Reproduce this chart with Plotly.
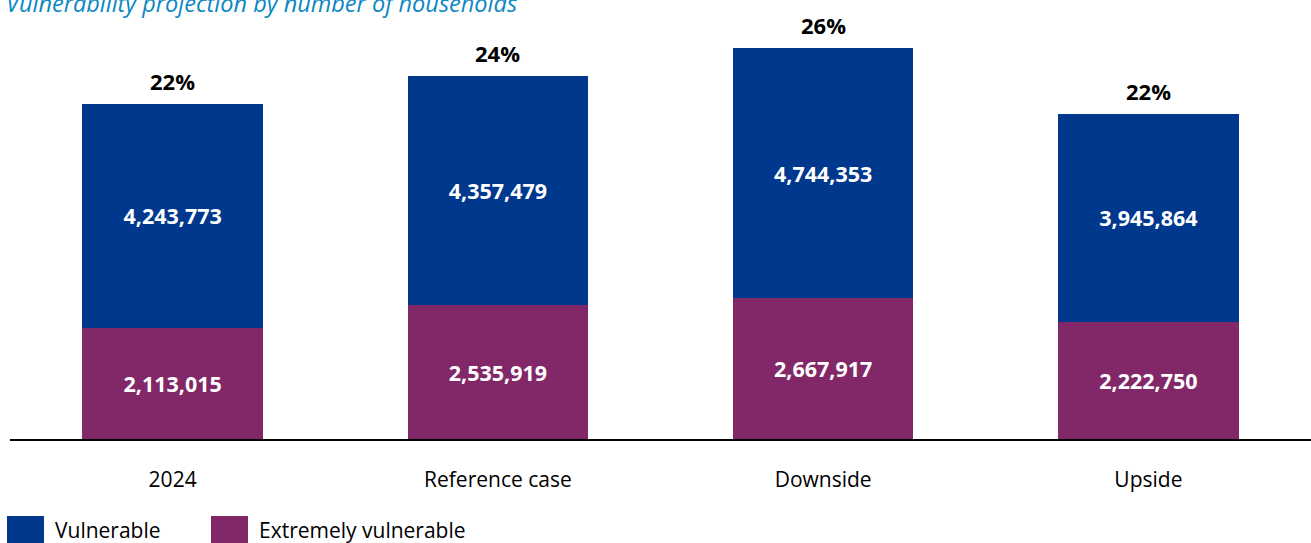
import plotly.graph_objects as go

# Household vulnerability projection by scenario
scenarios = ["2024", "Reference case", "Downside", "Upside"]
extremely_vulnerable = [2113015, 2535919, 2667917, 2222750]
vulnerable = [4243773, 4357479, 4744353, 3945864]
share_pct = [22, 24, 26, 22]

BLUE = "#00388e"
PURPLE = "#822868"
FONT = "Open Sans"

W, H = 1311, 543
ML, MR, MT, MB = 10, 0, 30, 104
plot_w = W - ML - MR
plot_h = H - MT - MB

# vertical scale: 335 px for the 2024 total
y_max = 7760900


def fmt(v):
    return f"{v:,}"


fig = go.Figure()
fig.add_trace(go.Bar(
    x=scenarios, y=extremely_vulnerable, name="Extremely vulnerable",
    marker=dict(color=PURPLE, line=dict(width=0)),
    text=[fmt(v) for v in extremely_vulnerable], textposition="inside",
    insidetextanchor="middle", textangle=0,
    textfont=dict(family=FONT, size=21.5, color="white", weight="bold"),
    width=0.555, showlegend=False, hoverinfo="skip",
))
fig.add_trace(go.Bar(
    x=scenarios, y=vulnerable, name="Vulnerable",
    marker=dict(color=BLUE, line=dict(width=0)),
    text=[fmt(v) for v in vulnerable], textposition="inside",
    insidetextanchor="middle", textangle=0,
    textfont=dict(family=FONT, size=21.5, color="white", weight="bold"),
    width=0.555, showlegend=False, hoverinfo="skip",
))

annotations = []
# share labels above each stack (category index positions)
for i, (e, v, p) in enumerate(zip(extremely_vulnerable, vulnerable, share_pct)):
    annotations.append(dict(
        x=i, y=e + v, xref="x", yref="y", text=f"<b>{p}%</b>",
        showarrow=False, yanchor="bottom", yshift=6,
        font=dict(family=FONT, size=22, color="black"),
    ))


def px_x(p):
    return (p - ML) / plot_w


def px_y(p):
    return (H - MB - p) / plot_h


# title
annotations.append(dict(
    x=px_x(4), y=px_y(21), xref="paper", yref="paper", xanchor="left", yanchor="bottom",
    text="<i>Vulnerability projection by number of households</i>", showarrow=False,
    font=dict(family=FONT, size=23.5, color="#0b87c4"),
))

# legend entries
shapes = []
legend_items = [("Vulnerable", BLUE, 7), ("Extremely vulnerable", PURPLE, 211)]
for label, color, x0 in legend_items:
    shapes.append(dict(
        type="rect", xref="paper", yref="paper",
        x0=px_x(x0), x1=px_x(x0 + 37), y0=px_y(543), y1=px_y(516),
        fillcolor=color, line=dict(width=0),
    ))
    annotations.append(dict(
        x=px_x(x0 + 46), y=px_y(530), xref="paper", yref="paper",
        xanchor="left", yanchor="middle", text=label, showarrow=False,
        font=dict(family=FONT, size=21, color="black"),
    ))

fig.update_layout(
    barmode="stack",
    width=W, height=H,
    margin=dict(l=ML, r=MR, t=MT, b=MB, pad=0),
    paper_bgcolor="white", plot_bgcolor="white",
    font=dict(family=FONT, size=21, color="black"),
    showlegend=False,
    annotations=annotations,
    shapes=shapes,
    xaxis=dict(
        type="category",
        range=[-0.5, 3.5], showline=True, linecolor="black", linewidth=2,
        ticks="outside", ticklen=21, tickcolor="rgba(0,0,0,0)",
        tickfont=dict(family=FONT, size=21, color="black"),
        showgrid=False, zeroline=False,
    ),
    yaxis=dict(
        range=[0, y_max], visible=False, showgrid=False, zeroline=False,
    ),
    uniformtext=dict(mode=False),
)

fig.write_html("out.html")
